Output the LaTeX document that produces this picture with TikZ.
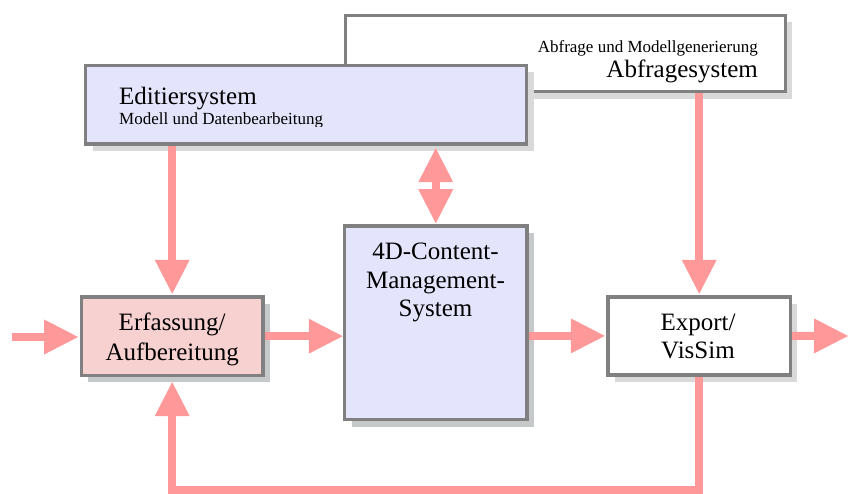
\documentclass[tikz,border=0pt]{standalone}
\usepackage{fontspec}
\setmainfont{Liberation Serif}
\usetikzlibrary{arrows.meta}

\definecolor{bordergray}{HTML}{808080}
\definecolor{shadowlight}{HTML}{D9D9D9}
\definecolor{shadowcool}{HTML}{C6C9C9}
\definecolor{lavender}{HTML}{E4E4FC}
\definecolor{rosefill}{HTML}{F7D0D0}
\definecolor{flowpink}{HTML}{FF9999}

\tikzset{
  box/.style={rectangle, draw=bordergray, line width=3.5pt, inner sep=0pt,
    minimum width=#1},
  shadowed/.style={preaction={fill=#1, draw=none,
    transform canvas={shift={(7pt,-7pt)}}}},
  bigtext/.style={font=\fontsize{25}{30}\selectfont, inner sep=0pt},
  smalltext/.style={font=\fontsize{17}{20}\selectfont, inner sep=0pt},
  flow/.style={draw=flowpink, line width=8pt, line join=miter,
    -{Triangle[length=34pt,width=35pt,line width=0pt]}},
  twoway/.style={draw=flowpink, line width=8pt,
    {Triangle[length=34pt,width=35pt,line width=0pt]}-{Triangle[length=34pt,width=35pt,line width=0pt]}},
}

\begin{document}
\begin{tikzpicture}[x=1pt,y=-1pt]
\useasboundingbox[fill=white] (0,0) rectangle (848,494);

% query system (behind the editing system)
\node[box=440pt, minimum height=76.4pt, fill=white, shadowed=shadowlight]
  (abf) at (565.3,53.5) {};
\node[smalltext, anchor=base east] (abfsub) at (758,53) {Abfrage und Modellgenerierung};
\node[bigtext, anchor=base east] (abftitle) at (758,78) {Abfragesystem};

% editing system
\node[box=441pt, minimum height=78.5pt, fill=lavender, shadowed=shadowlight]
  (edit) at (306,104.75) {};
\node[bigtext, anchor=base west] (edittitle) at (119,105) {Editiersystem};
\begin{scope}
  \clip (84,60) rectangle (526,126.7);
  \node[smalltext, anchor=base west] (editsub) at (119,125) {Modell und Datenbearbeitung};
\end{scope}

% acquisition
\node[box=181.7pt, minimum height=78.3pt, fill=rosefill, shadowed=shadowcool]
  (erf) at (172.2,336.2) {};
\node[bigtext, anchor=base] (erfA) at (172.2,330) {Erfassung/};
\node[bigtext, anchor=base] (erfB) at (172.2,360) {Aufbereitung};

% content management system
\node[box=182.5pt, minimum height=193.5pt, fill=lavender, shadowed=shadowcool]
  (cms) at (435.75,322.75) {};
\node[bigtext, anchor=base] (cmsA) at (435.5,259.3) {4D-Content-};
\node[bigtext, anchor=base] (cmsB) at (435.5,288.3) {Management-};
\node[bigtext, anchor=base] (cmsC) at (435.5,316) {System};

% export
\node[box=182.3pt, minimum height=77.7pt, fill=white, shadowed=shadowlight]
  (exp) at (699.2,335.9) {};
\node[bigtext, anchor=base] (expA) at (698,330) {Export/};
\node[bigtext, anchor=base] (expB) at (698,358) {VisSim};

% free ends of the flow
\coordinate (in) at (12,337);
\coordinate (out) at (848,336);
\coordinate (bot) at (172.2,490);

% flows
\draw[flow] (in) -- ([xshift=-1.5pt]erf.west |- in);
\draw[flow] (erf.east) -- (erf.east -| cms.west);
\draw[flow] (cms.east |- exp.west) -- ([xshift=-1.5pt]exp.west);
\draw[flow] (exp.east) -- (out);
\draw[flow] (edit.south -| erf.north) -- ([yshift=1.5pt]erf.north);
\draw[twoway] ([yshift=-2.5pt]edit.south -| cms.north) -- ([yshift=1pt]cms.north);
\draw[flow] (abf.south -| exp.north) -- ([yshift=1.5pt]exp.north);
\draw[flow] (exp.south) |- (bot) -- ([yshift=-5pt]erf.south);
\end{tikzpicture}
\end{document}
